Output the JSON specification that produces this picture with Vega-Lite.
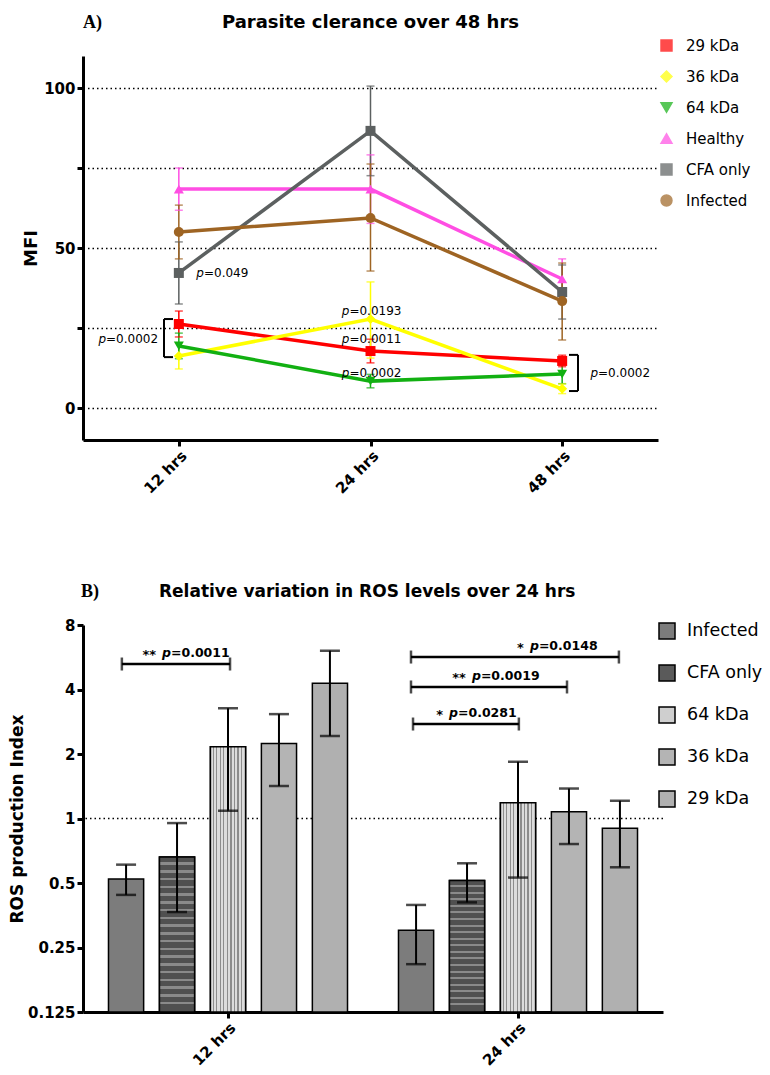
{
"$schema":"https://vega.github.io/schema/vega-lite/v6.json",
"background":"white",
"padding":{"left":8,"top":14,"right":5,"bottom":5},
"spacing":85,
"resolve":{"scale":{"color":"independent","shape":"independent"}},
"config":{
 "font":"DejaVu Sans",
 "view":{"stroke":null},
 "axis":{"domainColor":"black","tickColor":"black","labelColor":"black","titleColor":"black","labelFontWeight":"bold","titleFontWeight":"bold","labelFont":"DejaVu Sans","titleFont":"DejaVu Sans"},
 "legend":{"labelColor":"black","labelFont":"DejaVu Sans"}
},
"datasets":{
 "a":[
  {"time":"12 hrs","series":"29 kDa","mfi":26.25,"lo":22.2,"hi":30.3},
  {"time":"24 hrs","series":"29 kDa","mfi":17.8,"lo":14.1,"hi":21.5},
  {"time":"48 hrs","series":"29 kDa","mfi":14.7,"lo":12.9,"hi":16.5},
  {"time":"12 hrs","series":"36 kDa","mfi":16.25,"lo":12.2,"hi":20.3},
  {"time":"24 hrs","series":"36 kDa","mfi":27.8,"lo":15.6,"hi":39.4},
  {"time":"48 hrs","series":"36 kDa","mfi":6.0,"lo":4.5,"hi":7.5},
  {"time":"12 hrs","series":"64 kDa","mfi":19.4,"lo":15.4,"hi":23.4},
  {"time":"24 hrs","series":"64 kDa","mfi":8.4,"lo":6.3,"hi":10.5},
  {"time":"48 hrs","series":"64 kDa","mfi":10.6,"lo":7.6,"hi":13.7},
  {"time":"12 hrs","series":"Healthy","mfi":68.4,"lo":61.8,"hi":75.0},
  {"time":"24 hrs","series":"Healthy","mfi":68.4,"lo":57.7,"hi":79.1},
  {"time":"48 hrs","series":"Healthy","mfi":40.3,"lo":34.0,"hi":46.6},
  {"time":"12 hrs","series":"CFA only","mfi":42.2,"lo":32.5,"hi":51.9},
  {"time":"24 hrs","series":"CFA only","mfi":86.6,"lo":72.6,"hi":100.6},
  {"time":"48 hrs","series":"CFA only","mfi":36.25,"lo":27.8,"hi":44.7},
  {"time":"12 hrs","series":"Infected","mfi":55.0,"lo":46.6,"hi":63.4},
  {"time":"24 hrs","series":"Infected","mfi":59.4,"lo":42.8,"hi":76.25},
  {"time":"48 hrs","series":"Infected","mfi":33.4,"lo":21.25,"hi":45.3}
 ],
 "anno_a":[
  {"pre":"p","val":"=0.049","x":0.131,"y":42.2},
  {"pre":"p","val":"=0.0002","x":-0.38,"y":21.6},
  {"pre":"p","val":"=0.0193","x":0.89,"y":30.3},
  {"pre":"p","val":"=0.0011","x":0.89,"y":21.6},
  {"pre":"p","val":"=0.0002","x":0.89,"y":11.0},
  {"pre":"p","val":"=0.0002","x":2.187,"y":11.0}
 ],
 "brk_a":[
  {"x":-0.0774,"x2":-0.0774,"y":27.8,"y2":15.9},
  {"x":-0.0774,"x2":-0.0304,"y":27.8,"y2":27.8},
  {"x":-0.0774,"x2":-0.0304,"y":15.9,"y2":15.9},
  {"x":2.0826,"x2":2.0826,"y":16.6,"y2":5.3},
  {"x":2.0356,"x2":2.0826,"y":16.6,"y2":16.6},
  {"x":2.0356,"x2":2.0826,"y":5.3,"y2":5.3}
 ],
 "lab_a":[{"label":"A)","x":-0.5,"y":118.66}],
 "title_a":[{"label":"Parasite clerance over 48 hrs","x":1.0,"y":118.66}],
 "b":[
  {"group":"12 hrs","treatment":"Infected","ros":0.522,"lo":0.44,"hi":0.609},
  {"group":"12 hrs","treatment":"CFA only","ros":0.661,"lo":0.366,"hi":0.952},
  {"group":"12 hrs","treatment":"64 kDa","ros":2.16,"lo":1.087,"hi":3.27},
  {"group":"12 hrs","treatment":"36 kDa","ros":2.24,"lo":1.418,"hi":3.07},
  {"group":"12 hrs","treatment":"29 kDa","ros":4.28,"lo":2.43,"hi":6.07},
  {"group":"24 hrs","treatment":"Infected","ros":0.301,"lo":0.209,"hi":0.395},
  {"group":"24 hrs","treatment":"CFA only","ros":0.513,"lo":0.406,"hi":0.618},
  {"group":"24 hrs","treatment":"64 kDa","ros":1.185,"lo":0.53,"hi":1.84},
  {"group":"24 hrs","treatment":"36 kDa","ros":1.076,"lo":0.76,"hi":1.38},
  {"group":"24 hrs","treatment":"29 kDa","ros":0.90,"lo":0.592,"hi":1.21}
 ],
 "brk_b":[
  {"x1":0.134,"x2":0.507,"y":5.26,"stars":"**","pre":"p","val":"=0.0011","xt":0.3034},
  {"x1":1.131,"x2":1.848,"y":5.67,"stars":"*","pre":"p","val":"=0.0148","xt":1.572},
  {"x1":1.131,"x2":1.669,"y":4.11,"stars":"**","pre":"p","val":"=0.0019","xt":1.372},
  {"x1":1.138,"x2":1.503,"y":2.76,"stars":"*","pre":"p","val":"=0.0281","xt":1.293}
 ],
 "ref_b":[{"ref":1}],
 "lab_b":[{"label":"B)","x":-0.007,"y":10.85}],
 "title_b":[{"label":"Relative variation in ROS levels over 24 hrs","x":0.98,"y":10.85}]
},
"vconcat":[
 {
  "width":575,"height":384,
  "layer":[
   {
    "data":{"name":"a"},
    "layer":[
     {
      "mark":{"type":"line","strokeWidth":3.5},
      "encoding":{
       "x":{"field":"time","type":"nominal","sort":["12 hrs","24 hrs","48 hrs"],"scale":{"type":"point","padding":0.5},
            "axis":{"title":null,"labelAngle":-45,"labelFontSize":15,"domainWidth":3,"tickWidth":3,"tickSize":6,"labelPadding":2}},
       "y":{"field":"mfi","type":"quantitative","scale":{"domain":[-10,110],"nice":false,"zero":false},
            "axis":{"title":"MFI","titleFontSize":18,"titlePadding":3,"values":[0,25,50,75,100],"labelExpr":"datum.value % 50 === 0 ? datum.label : ''","labelFontSize":15,"labelPadding":2,"domainWidth":3,"tickWidth":3,"tickSize":6,"grid":true,"gridColor":"black","gridDash":[1.5,3],"gridWidth":1.3}},
       "color":{"field":"series","type":"nominal","title":null,
                "scale":{"domain":["29 kDa","36 kDa","64 kDa","Healthy","CFA only","Infected"],"range":["#ff0000","#ffff00","#12b012","#ff4ee3","#5c6060","#9e6423"]}}
      }
     },
     {
      "mark":{"type":"rule","strokeWidth":1.5},
      "encoding":{
       "x":{"field":"time","type":"nominal","sort":["12 hrs","24 hrs","48 hrs"]},
       "y":{"field":"lo","type":"quantitative","scale":{"domain":[-10,110],"nice":false,"zero":false}},
       "y2":{"field":"hi"},
       "color":{"field":"series","type":"nominal","title":null}
      }
     },
     {
      "mark":{"type":"tick","thickness":1.5,"size":8},
      "encoding":{
       "x":{"field":"time","type":"nominal","sort":["12 hrs","24 hrs","48 hrs"]},
       "y":{"field":"lo","type":"quantitative","scale":{"domain":[-10,110],"nice":false,"zero":false}},
       "color":{"field":"series","type":"nominal","title":null}
      }
     },
     {
      "mark":{"type":"tick","thickness":1.5,"size":8},
      "encoding":{
       "x":{"field":"time","type":"nominal","sort":["12 hrs","24 hrs","48 hrs"]},
       "y":{"field":"hi","type":"quantitative","scale":{"domain":[-10,110],"nice":false,"zero":false}},
       "color":{"field":"series","type":"nominal","title":null}
      }
     },
     {
      "mark":{"type":"point","filled":true,"size":100,"opacity":1},
      "encoding":{
       "x":{"field":"time","type":"nominal","sort":["12 hrs","24 hrs","48 hrs"]},
       "y":{"field":"mfi","type":"quantitative","scale":{"domain":[-10,110],"nice":false,"zero":false}},
       "color":{"field":"series","type":"nominal","title":null,
                "legend":{"orient":"none","legendX":576,"legendY":-18,"padding":0,"symbolSize":120,"symbolOpacity":1,"labelFontSize":15,"labelOffset":12,"rowPadding":14}},
       "shape":{"field":"series","type":"nominal","title":null,
                "scale":{"domain":["29 kDa","36 kDa","64 kDa","Healthy","CFA only","Infected"],"range":["square","diamond","triangle-down","triangle-up","square","circle"]},
                "legend":{"orient":"none","legendX":576,"legendY":-18,"padding":0,"symbolSize":120,"symbolOpacity":1,"labelFontSize":15,"labelOffset":12,"rowPadding":14}}
      }
     }
    ]
   },
   {
    "layer":[
     {
      "data":{"name":"brk_a"},
      "mark":{"type":"rule","strokeWidth":2,"color":"black"},
      "encoding":{
       "x":{"field":"x","type":"quantitative","scale":{"domain":[-0.5,2.5],"nice":false,"zero":false},"axis":null},
       "x2":{"field":"x2"},
       "y":{"field":"y","type":"quantitative","scale":{"domain":[-10,110],"nice":false,"zero":false}},
       "y2":{"field":"y2"}
      }
     },
     {
      "data":{"name":"anno_a"},
      "mark":{"type":"text","align":"right","baseline":"middle","fontStyle":"italic","fontSize":12,"color":"black"},
      "encoding":{
       "x":{"field":"x","type":"quantitative","scale":{"domain":[-0.5,2.5],"nice":false,"zero":false},"axis":null},
       "y":{"field":"y","type":"quantitative","scale":{"domain":[-10,110],"nice":false,"zero":false}},
       "text":{"field":"pre"}
      }
     },
     {
      "data":{"name":"anno_a"},
      "mark":{"type":"text","align":"left","baseline":"middle","fontSize":12,"color":"black"},
      "encoding":{
       "x":{"field":"x","type":"quantitative","scale":{"domain":[-0.5,2.5],"nice":false,"zero":false},"axis":null},
       "y":{"field":"y","type":"quantitative","scale":{"domain":[-10,110],"nice":false,"zero":false}},
       "text":{"field":"val"}
      }
     },
     {
      "data":{"name":"lab_a"},
      "mark":{"type":"text","align":"left","baseline":"alphabetic","fontSize":18,"font":"Liberation Serif","fontWeight":"bold","color":"black"},
      "encoding":{
       "x":{"field":"x","type":"quantitative","scale":{"domain":[-0.5,2.5],"nice":false,"zero":false},"axis":null},
       "y":{"field":"y","type":"quantitative","scale":{"domain":[-10,110],"nice":false,"zero":false}},
       "text":{"field":"label"}
      }
     },
     {
      "data":{"name":"title_a"},
      "mark":{"type":"text","align":"center","baseline":"alphabetic","fontSize":18,"fontWeight":"bold","color":"black"},
      "encoding":{
       "x":{"field":"x","type":"quantitative","scale":{"domain":[-0.5,2.5],"nice":false,"zero":false},"axis":null},
       "y":{"field":"y","type":"quantitative","scale":{"domain":[-10,110],"nice":false,"zero":false}},
       "text":{"field":"label"}
      }
     }
    ]
   }
  ],
  "resolve":{"scale":{"x":"independent"},"axis":{"x":"independent"}}
 },
 {
  "width":580,"height":387,
  "layer":[
   {
    "layer":[
     {
      "data":{"name":"ref_b"},
      "mark":{"type":"rule","strokeDash":[1.5,3],"strokeWidth":1.5,"color":"black"},
      "encoding":{
       "y":{"field":"ref","type":"quantitative","scale":{"type":"log","base":2,"domain":[0.125,8],"nice":false}}
      }
     },
     {
      "data":{"name":"b"},
      "mark":{"type":"bar","stroke":"black","strokeWidth":1.5},
      "encoding":{
       "x":{"field":"group","type":"nominal","scale":{"paddingInner":0,"paddingOuter":0},
            "axis":{"title":null,"labelAngle":-45,"labelFontSize":15,"domainWidth":3,"tickWidth":3,"tickSize":6,"labelPadding":2}},
       "xOffset":{"field":"treatment","type":"nominal","sort":["Infected","CFA only","64 kDa","36 kDa","29 kDa"],"scale":{"paddingInner":0.31,"paddingOuter":0.5}},
       "y":{"field":"ros","type":"quantitative","scale":{"type":"log","base":2,"domain":[0.125,8],"nice":false},
            "axis":{"title":"ROS production Index","titleFontSize":17,"titlePadding":1,"values":[0.125,0.25,0.5,1,2,4,8],"format":"~g","labelFontSize":15,"labelPadding":2,"domainWidth":3,"tickWidth":3,"tickSize":6,"grid":false}},
       "y2":{"datum":0.125},
       "color":{"field":"treatment","type":"nominal","title":null,
                "scale":{"domain":["Infected","CFA only","64 kDa","36 kDa","29 kDa"],"range":["#7c7c7c","#5a5a5a","#cfcfcf","#b4b4b4","#b0b0b0"]},
                "legend":{"orient":"none","legendX":575,"legendY":-3,"padding":0,"symbolType":"square","symbolSize":256,"symbolOpacity":1,"symbolStrokeColor":"black","symbolStrokeWidth":1.5,"labelFontSize":17.5,"labelOffset":11,"rowPadding":20}}
      }
     },
     {
      "data":{"name":"b"},
      "transform":[{"filter":"datum.treatment === '64 kDa'"}],
      "mark":{"type":"bar","stroke":"black","strokeWidth":1.5,
              "fill":{"gradient":"linear","x1":0,"y1":0,"x2":1,"y2":0,"stops":[
               {"offset":0,"color":"#dcdcdc"},{"offset":0.07,"color":"#dcdcdc"},{"offset":0.07,"color":"#8c8c8c"},{"offset":0.1,"color":"#8c8c8c"},
               {"offset":0.1,"color":"#dcdcdc"},{"offset":0.17,"color":"#dcdcdc"},{"offset":0.17,"color":"#8c8c8c"},{"offset":0.2,"color":"#8c8c8c"},
               {"offset":0.2,"color":"#dcdcdc"},{"offset":0.27,"color":"#dcdcdc"},{"offset":0.27,"color":"#8c8c8c"},{"offset":0.3,"color":"#8c8c8c"},
               {"offset":0.3,"color":"#dcdcdc"},{"offset":0.37,"color":"#dcdcdc"},{"offset":0.37,"color":"#8c8c8c"},{"offset":0.4,"color":"#8c8c8c"},
               {"offset":0.4,"color":"#dcdcdc"},{"offset":0.47,"color":"#dcdcdc"},{"offset":0.47,"color":"#8c8c8c"},{"offset":0.5,"color":"#8c8c8c"},
               {"offset":0.5,"color":"#dcdcdc"},{"offset":0.57,"color":"#dcdcdc"},{"offset":0.57,"color":"#8c8c8c"},{"offset":0.6,"color":"#8c8c8c"},
               {"offset":0.6,"color":"#dcdcdc"},{"offset":0.67,"color":"#dcdcdc"},{"offset":0.67,"color":"#8c8c8c"},{"offset":0.7,"color":"#8c8c8c"},
               {"offset":0.7,"color":"#dcdcdc"},{"offset":0.77,"color":"#dcdcdc"},{"offset":0.77,"color":"#8c8c8c"},{"offset":0.8,"color":"#8c8c8c"},
               {"offset":0.8,"color":"#dcdcdc"},{"offset":0.87,"color":"#dcdcdc"},{"offset":0.87,"color":"#8c8c8c"},{"offset":0.9,"color":"#8c8c8c"},
               {"offset":0.9,"color":"#dcdcdc"},{"offset":1,"color":"#dcdcdc"}]}},
      "encoding":{
       "x":{"field":"group","type":"nominal"},
       "xOffset":{"field":"treatment","type":"nominal","sort":["Infected","CFA only","64 kDa","36 kDa","29 kDa"]},
       "y":{"field":"ros","type":"quantitative","scale":{"type":"log","base":2,"domain":[0.125,8],"nice":false}},
       "y2":{"datum":0.125}
      }
     },
     {
      "data":{"name":"b"},
      "transform":[{"filter":"datum.treatment === 'CFA only'"}],
      "mark":{"type":"bar","stroke":"black","strokeWidth":1.5,
              "fill":{"gradient":"linear","x1":0,"y1":0,"x2":0,"y2":1,"stops":[
               {"offset":0,"color":"#505050"},{"offset":0.035,"color":"#505050"},{"offset":0.035,"color":"#8a8a8a"},{"offset":0.05,"color":"#8a8a8a"},
               {"offset":0.05,"color":"#505050"},{"offset":0.085,"color":"#505050"},{"offset":0.085,"color":"#8a8a8a"},{"offset":0.1,"color":"#8a8a8a"},
               {"offset":0.1,"color":"#505050"},{"offset":0.135,"color":"#505050"},{"offset":0.135,"color":"#8a8a8a"},{"offset":0.15,"color":"#8a8a8a"},
               {"offset":0.15,"color":"#505050"},{"offset":0.185,"color":"#505050"},{"offset":0.185,"color":"#8a8a8a"},{"offset":0.2,"color":"#8a8a8a"},
               {"offset":0.2,"color":"#505050"},{"offset":0.235,"color":"#505050"},{"offset":0.235,"color":"#8a8a8a"},{"offset":0.25,"color":"#8a8a8a"},
               {"offset":0.25,"color":"#505050"},{"offset":0.285,"color":"#505050"},{"offset":0.285,"color":"#8a8a8a"},{"offset":0.3,"color":"#8a8a8a"},
               {"offset":0.3,"color":"#505050"},{"offset":0.335,"color":"#505050"},{"offset":0.335,"color":"#8a8a8a"},{"offset":0.35,"color":"#8a8a8a"},
               {"offset":0.35,"color":"#505050"},{"offset":0.385,"color":"#505050"},{"offset":0.385,"color":"#8a8a8a"},{"offset":0.4,"color":"#8a8a8a"},
               {"offset":0.4,"color":"#505050"},{"offset":0.435,"color":"#505050"},{"offset":0.435,"color":"#8a8a8a"},{"offset":0.45,"color":"#8a8a8a"},
               {"offset":0.45,"color":"#505050"},{"offset":0.485,"color":"#505050"},{"offset":0.485,"color":"#8a8a8a"},{"offset":0.5,"color":"#8a8a8a"},
               {"offset":0.5,"color":"#505050"},{"offset":0.535,"color":"#505050"},{"offset":0.535,"color":"#8a8a8a"},{"offset":0.55,"color":"#8a8a8a"},
               {"offset":0.55,"color":"#505050"},{"offset":0.585,"color":"#505050"},{"offset":0.585,"color":"#8a8a8a"},{"offset":0.6,"color":"#8a8a8a"},
               {"offset":0.6,"color":"#505050"},{"offset":0.635,"color":"#505050"},{"offset":0.635,"color":"#8a8a8a"},{"offset":0.65,"color":"#8a8a8a"},
               {"offset":0.65,"color":"#505050"},{"offset":0.685,"color":"#505050"},{"offset":0.685,"color":"#8a8a8a"},{"offset":0.7,"color":"#8a8a8a"},
               {"offset":0.7,"color":"#505050"},{"offset":0.735,"color":"#505050"},{"offset":0.735,"color":"#8a8a8a"},{"offset":0.75,"color":"#8a8a8a"},
               {"offset":0.75,"color":"#505050"},{"offset":0.785,"color":"#505050"},{"offset":0.785,"color":"#8a8a8a"},{"offset":0.8,"color":"#8a8a8a"},
               {"offset":0.8,"color":"#505050"},{"offset":0.835,"color":"#505050"},{"offset":0.835,"color":"#8a8a8a"},{"offset":0.85,"color":"#8a8a8a"},
               {"offset":0.85,"color":"#505050"},{"offset":0.885,"color":"#505050"},{"offset":0.885,"color":"#8a8a8a"},{"offset":0.9,"color":"#8a8a8a"},
               {"offset":0.9,"color":"#505050"},{"offset":0.935,"color":"#505050"},{"offset":0.935,"color":"#8a8a8a"},{"offset":0.95,"color":"#8a8a8a"},
               {"offset":0.95,"color":"#505050"},{"offset":1,"color":"#505050"}]}},
      "encoding":{
       "x":{"field":"group","type":"nominal"},
       "xOffset":{"field":"treatment","type":"nominal","sort":["Infected","CFA only","64 kDa","36 kDa","29 kDa"]},
       "y":{"field":"ros","type":"quantitative","scale":{"type":"log","base":2,"domain":[0.125,8],"nice":false}},
       "y2":{"datum":0.125}
      }
     },
     {
      "data":{"name":"b"},
      "mark":{"type":"rule","strokeWidth":2,"color":"black"},
      "encoding":{
       "x":{"field":"group","type":"nominal"},
       "xOffset":{"field":"treatment","type":"nominal","sort":["Infected","CFA only","64 kDa","36 kDa","29 kDa"]},
       "y":{"field":"lo","type":"quantitative","scale":{"type":"log","base":2,"domain":[0.125,8],"nice":false}},
       "y2":{"field":"hi"}
      }
     },
     {
      "data":{"name":"b"},
      "mark":{"type":"tick","thickness":2.5,"size":20,"color":"black"},
      "encoding":{
       "x":{"field":"group","type":"nominal"},
       "xOffset":{"field":"treatment","type":"nominal","sort":["Infected","CFA only","64 kDa","36 kDa","29 kDa"]},
       "y":{"field":"lo","type":"quantitative","scale":{"type":"log","base":2,"domain":[0.125,8],"nice":false}}
      }
     },
     {
      "data":{"name":"b"},
      "mark":{"type":"tick","thickness":2.5,"size":20,"color":"black"},
      "encoding":{
       "x":{"field":"group","type":"nominal"},
       "xOffset":{"field":"treatment","type":"nominal","sort":["Infected","CFA only","64 kDa","36 kDa","29 kDa"]},
       "y":{"field":"hi","type":"quantitative","scale":{"type":"log","base":2,"domain":[0.125,8],"nice":false}}
      }
     }
    ]
   },
   {
    "layer":[
     {
      "data":{"name":"brk_b"},
      "mark":{"type":"rule","strokeWidth":2.5,"color":"black"},
      "encoding":{
       "x":{"field":"x1","type":"quantitative","scale":{"domain":[0,2],"nice":false,"zero":false},"axis":null},
       "x2":{"field":"x2"},
       "y":{"field":"y","type":"quantitative","scale":{"type":"log","base":2,"domain":[0.125,8],"nice":false}}
      }
     },
     {
      "data":{"name":"brk_b"},
      "mark":{"type":"tick","orient":"vertical","thickness":2.5,"size":13,"color":"black"},
      "encoding":{
       "x":{"field":"x1","type":"quantitative","scale":{"domain":[0,2],"nice":false,"zero":false},"axis":null},
       "y":{"field":"y","type":"quantitative","scale":{"type":"log","base":2,"domain":[0.125,8],"nice":false}}
      }
     },
     {
      "data":{"name":"brk_b"},
      "mark":{"type":"tick","orient":"vertical","thickness":2.5,"size":13,"color":"black"},
      "encoding":{
       "x":{"field":"x2","type":"quantitative","scale":{"domain":[0,2],"nice":false,"zero":false},"axis":null},
       "y":{"field":"y","type":"quantitative","scale":{"type":"log","base":2,"domain":[0.125,8],"nice":false}}
      }
     },
     {
      "data":{"name":"brk_b"},
      "mark":{"type":"text","align":"left","baseline":"alphabetic","dy":-7,"fontSize":12.5,"fontWeight":"bold","color":"black"},
      "encoding":{
       "x":{"field":"xt","type":"quantitative","scale":{"domain":[0,2],"nice":false,"zero":false},"axis":null},
       "y":{"field":"y","type":"quantitative","scale":{"type":"log","base":2,"domain":[0.125,8],"nice":false}},
       "text":{"field":"val"}
      }
     },
     {
      "data":{"name":"brk_b"},
      "mark":{"type":"text","align":"right","baseline":"alphabetic","dy":-7,"fontSize":12.5,"fontWeight":"bold","fontStyle":"italic","color":"black"},
      "encoding":{
       "x":{"field":"xt","type":"quantitative","scale":{"domain":[0,2],"nice":false,"zero":false},"axis":null},
       "y":{"field":"y","type":"quantitative","scale":{"type":"log","base":2,"domain":[0.125,8],"nice":false}},
       "text":{"field":"pre"}
      }
     },
     {
      "data":{"name":"brk_b"},
      "mark":{"type":"text","align":"right","baseline":"alphabetic","dy":-5,"dx":-15,"fontSize":13,"fontWeight":"bold","color":"black"},
      "encoding":{
       "x":{"field":"xt","type":"quantitative","scale":{"domain":[0,2],"nice":false,"zero":false},"axis":null},
       "y":{"field":"y","type":"quantitative","scale":{"type":"log","base":2,"domain":[0.125,8],"nice":false}},
       "text":{"field":"stars"}
      }
     },
     {
      "data":{"name":"lab_b"},
      "mark":{"type":"text","align":"left","baseline":"alphabetic","fontSize":18,"font":"Liberation Serif","fontWeight":"bold","color":"black"},
      "encoding":{
       "x":{"field":"x","type":"quantitative","scale":{"domain":[0,2],"nice":false,"zero":false},"axis":null},
       "y":{"field":"y","type":"quantitative","scale":{"type":"log","base":2,"domain":[0.125,8],"nice":false}},
       "text":{"field":"label"}
      }
     },
     {
      "data":{"name":"title_b"},
      "mark":{"type":"text","align":"center","baseline":"alphabetic","fontSize":17,"fontWeight":"bold","color":"black"},
      "encoding":{
       "x":{"field":"x","type":"quantitative","scale":{"domain":[0,2],"nice":false,"zero":false},"axis":null},
       "y":{"field":"y","type":"quantitative","scale":{"type":"log","base":2,"domain":[0.125,8],"nice":false}},
       "text":{"field":"label"}
      }
     }
    ]
   }
  ],
  "resolve":{"scale":{"x":"independent"},"axis":{"x":"independent"}}
 }
]
}
